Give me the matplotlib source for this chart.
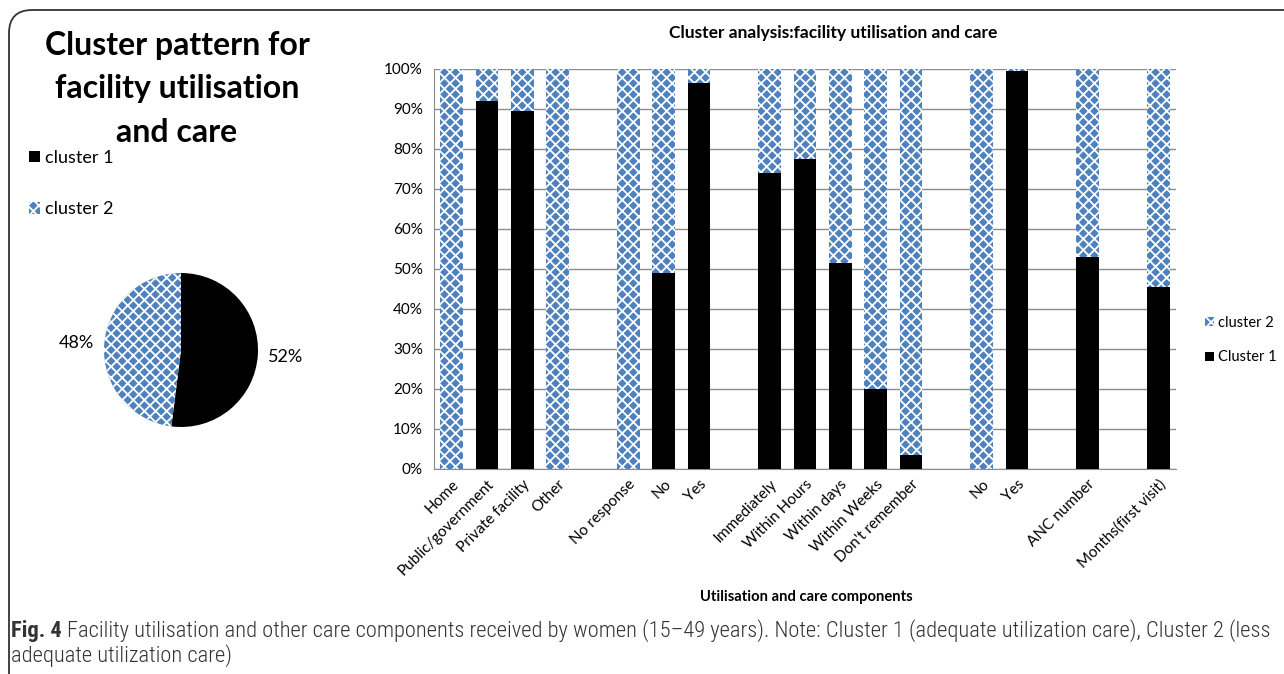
import matplotlib
matplotlib.use("Agg")
import matplotlib.pyplot as plt
import numpy as np
from matplotlib.patches import FancyBboxPatch, Patch

# ---------------- data ----------------
categories = ["Home", "Public/government", "Private facility", "Other", "",
              "No response", "No", "Yes", "",
              "Immediately", "Within Hours", "Within days", "Within Weeks", "Don't remember", "",
              "No", "Yes", "",
              "ANC number", "",
              "Months(first visit)"]
cluster1 = [0, 92, 89.5, 0, 0,
            0, 49, 96.5, 0,
            74, 77.5, 51.5, 20, 3.5, 0,
            0, 99.5, 0,
            53, 0,
            45.5]
cluster2 = [100, 8, 10.5, 100, 0,
            100, 51, 3.5, 0,
            26, 22.5, 48.5, 80, 96.5, 0,
            100, 0.5, 0,
            47, 0,
            54.5]
yticks = [0, 10, 20, 30, 40, 50, 60, 70, 80, 90, 100]
pie_labels = ["cluster 1", "cluster 2"]
pie_values = [52, 48]

BLUE = "#4f81bd"
HATCH = "xxx"
W, H = 1284, 674
plt.rcParams["font.family"] = ["Lato", "DejaVu Sans"]
plt.rcParams["hatch.linewidth"] = 1.3

fig = plt.figure(figsize=(W / 100, H / 100), dpi=100)

def fx(x):
    return x / W

def fy(y):
    return 1 - y / H

# border box
box = FancyBboxPatch((fx(9), fy(700)), fx(1320) - fx(9), fy(10) - fy(700),
                     boxstyle="round,pad=0,rounding_size=0.018",
                     transform=fig.transFigure, facecolor="none",
                     edgecolor="#333333", linewidth=1.3, mutation_aspect=W / H)
fig.patches.append(box)

# ---------------- pie ----------------
pax = fig.add_axes([fx(181 - 77), fy(350 + 77), fx(154), 154 / H])
wedges, texts, autotexts = pax.pie(pie_values, startangle=90, counterclock=False,
                                   colors=["black", "white"], autopct="%1.0f%%",
                                   pctdistance=1.36,
                                   wedgeprops=dict(linewidth=0))
wedges[1].set_facecolor(BLUE)
wedges[1].set_edgecolor("white")
wedges[1].set_hatch(HATCH)
for t in autotexts:
    t.set_fontsize(13)
    t.set_color("black")
    t.set_clip_on(False)
pax.set_xlim(-1, 1)
pax.set_ylim(-1, 1)
pax.set_aspect("equal")

fig.text(fx(177), fy(31), "Cluster pattern for\nfacility utilisation\nand care",
         ha="center", va="top", fontsize=23, fontweight="bold",
         linespacing=1.6, multialignment="center")

lh = [Patch(facecolor="black", edgecolor="black", linewidth=0),
      Patch(facecolor=BLUE, edgecolor="white", hatch=HATCH, linewidth=0)]
fig.legend(lh, pie_labels, loc="upper left", bbox_to_anchor=(fx(29), fy(150)),
           frameon=False, fontsize=13, handlelength=0.6, handleheight=0.6,
           handletextpad=0.3, labelspacing=1.95, borderaxespad=0, borderpad=0)

# ---------------- bar chart ----------------
ax = fig.add_axes([fx(434), fy(469), fx(1176 - 434), (469 - 69) / H])
x = np.arange(len(categories))
b1 = ax.bar(x, cluster1, width=0.65, color="black", linewidth=0, label="Cluster 1", zorder=3)
b2 = ax.bar(x, cluster2, width=0.65, bottom=cluster1, color=BLUE, edgecolor="white",
            hatch=HATCH, linewidth=0, label="cluster 2", zorder=3)
ax.set_xlim(-0.5, len(categories) - 0.5)
ax.set_ylim(0, 100)
ax.set_yticks(yticks)
ax.set_yticklabels([f"{v}%" for v in yticks], fontsize=11)
ax.yaxis.grid(True, color="#8c8c8c", linewidth=1.0, zorder=0)
ax.set_axisbelow(True)
ax.set_xticks(x)
ax.set_xticklabels(categories, rotation=45, ha="right", rotation_mode="anchor", fontsize=11)
ax.tick_params(axis="both", length=0)
ax.tick_params(axis="y", pad=8)
ax.tick_params(axis="x", pad=6)
for s in ["top", "right"]:
    ax.spines[s].set_visible(False)
ax.spines["left"].set_color("#8c8c8c")
ax.spines["bottom"].set_color("#8c8c8c")
fig.text(fx(833), fy(33), "Cluster analysis:facility utilisation and care", ha="center",
         va="center", fontsize=12.5, fontweight="bold")
fig.text(fx(806), fy(597), "Utilisation and care components", ha="center", va="center",
         fontsize=10.6, fontweight="bold")

fig.legend([b2, b1], ["cluster 2", "Cluster 1"], loc="upper left",
           bbox_to_anchor=(fx(1205), fy(316)), frameon=False, fontsize=10.5,
           handlelength=0.6, handleheight=0.6, handletextpad=0.3,
           labelspacing=1.4, borderaxespad=0, borderpad=0)

# ---------------- caption ----------------
cap_font = ["Roboto Condensed", "Liberation Sans Narrow", "DejaVu Sans Condensed", "Lato", "DejaVu Sans"]
cap_color = "#333333"
fs = 12.5
t1 = fig.text(fx(11), fy(631), "Fig. 4", ha="left", va="center", fontsize=fs,
              fontweight="bold", family=cap_font, color=cap_color)
t2 = fig.text(0, fy(631),
              "Facility utilisation and other care components received by women (15\u201349 years). "
              "Note: Cluster 1 (adequate utilization care), Cluster 2 (less",
              ha="left", va="center", fontsize=fs, family=cap_font, color=cap_color,
              fontweight="light")
t3 = fig.text(fx(11), fy(656), "adequate utilization care)", ha="left", va="center",
              fontsize=fs, family=cap_font, color=cap_color, fontweight="light")
# fit caption line to the reference width (ends near x=1262 px)
r = fig.canvas.get_renderer()
for _ in range(2):
    w1 = t1.get_window_extent(r).width
    w2 = t2.get_window_extent(r).width
    scale = (1262 - 11 - 5) / (w1 + w2)
    fs = fs * scale
    for t in (t1, t2, t3):
        t.set_fontsize(fs)
bb = t1.get_window_extent(r)
t2.set_x(bb.x1 / W + fx(5))

fig.savefig("out.png", dpi=100)
